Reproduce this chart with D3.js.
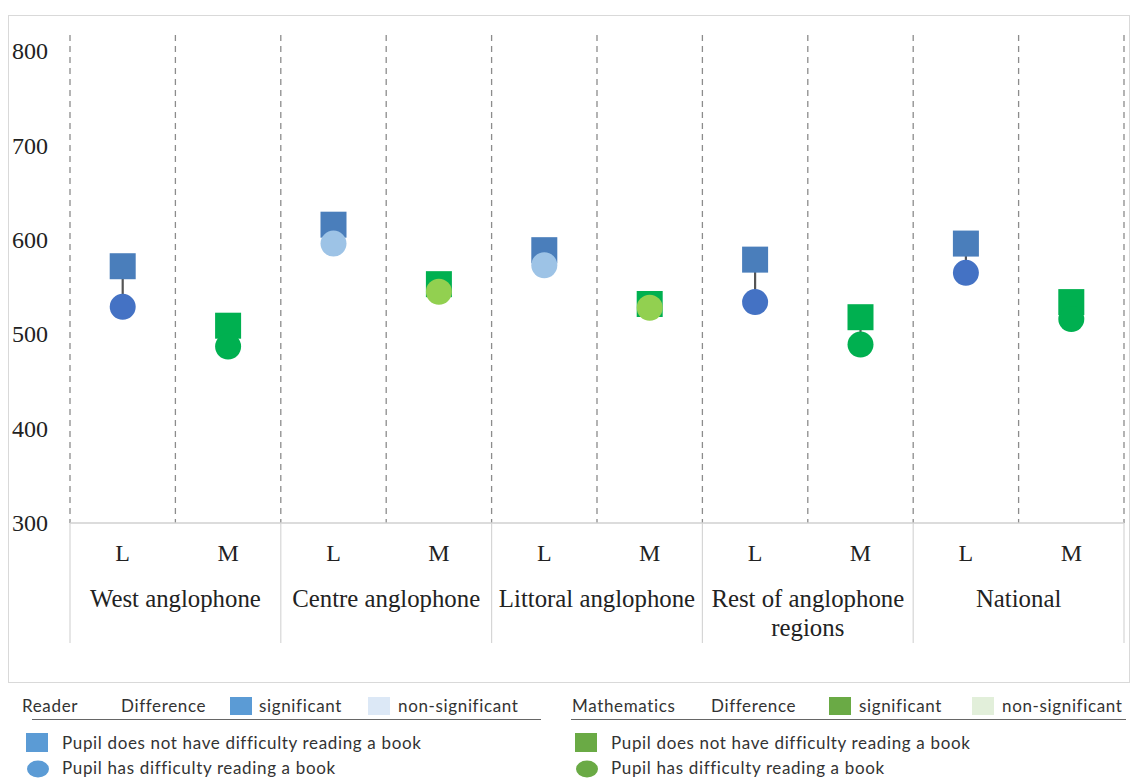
<!DOCTYPE html>
<html><head><meta charset="utf-8">
<script src="https://cdn.jsdelivr.net/npm/d3@7"></script>
<style>body{margin:0;background:#fff}svg{display:block}</style>
</head><body>
<svg id="c" width="1132" height="779"></svg>
<script>
const groups = ["West anglophone","Centre anglophone","Littoral anglophone","Rest of anglophone regions","National"];
const subjects = ["L","M"];
const noDifficulty = [572, 509, 616, 553, 589, 532, 579, 518, 596, 534];
const withDifficulty = [529, 487, 596, 545, 573, 528, 534, 489, 565, 516];
const significant = [true, true, false, false, false, false, true, true, true, true];
const yTicks = [300, 400, 500, 600, 700, 800];

const svg = d3.select("#c");
const serif = "'Liberation Serif','Times New Roman',serif";
const sans = "Lato,'Liberation Sans',sans-serif";

// frame
svg.append("rect").attr("x",8.5).attr("y",15.5).attr("width",1121).attr("height",667)
  .attr("fill","#fff").attr("stroke","#d9d9d9").attr("stroke-width",1);

const pLeft = 70, pRight = 1124, pTop = 35, pBottom = 523;
const y = d3.scaleLinear().domain([300, 800]).range([pBottom, 51]);
const keys = [];
groups.forEach(g => subjects.forEach(s => keys.push(g + "|" + s)));
const x = d3.scaleBand().domain(keys).range([pLeft, pRight]).padding(0);
const gx = d3.scaleBand().domain(groups).range([pLeft, pRight]).padding(0);
const cx = i => x(keys[i]) + x.bandwidth() / 2;

// dashed vertical gridlines at band edges
const edges = keys.map(k => x(k)).concat([pRight]);
svg.append("g").selectAll("line").data(edges).join("line")
  .attr("x1", d => d).attr("x2", d => d).attr("y1", pTop).attr("y2", pBottom)
  .attr("stroke", "#8c8c8c").attr("stroke-width", 1.3).attr("stroke-dasharray", "6,5");

// baseline
svg.append("line").attr("x1", pLeft).attr("x2", pRight).attr("y1", pBottom).attr("y2", pBottom)
  .attr("stroke", "#d0d0d0").attr("stroke-width", 1.3);

// group separators below axis
const gEdges = groups.map(g => gx(g)).concat([pRight]);
svg.append("g").selectAll("line").data(gEdges).join("line")
  .attr("x1", d => d).attr("x2", d => d).attr("y1", pBottom).attr("y2", 643)
  .attr("stroke", "#d6d6d6").attr("stroke-width", 1.2);

// y axis labels
const yAxis = d3.axisLeft(y).tickValues(yTicks).tickSize(0).tickPadding(0);
const ya = svg.append("g").attr("transform", "translate(12,0)").call(yAxis);
ya.select(".domain").remove();
ya.selectAll("text").attr("text-anchor", "start").attr("x", 0).attr("dy", "0.32em")
  .style("font-family", serif).style("font-size", "24px").attr("fill", "#222");

// sub labels
svg.append("g").selectAll("text").data(keys).join("text")
  .attr("x", (d, i) => cx(i)).attr("y", 561).attr("text-anchor", "middle")
  .style("font-family", serif).style("font-size", "24px").attr("fill", "#222")
  .text(d => d.split("|")[1]);

// group labels with wrap
svg.append("g").selectAll("text").data(groups).join("text")
  .attr("x", d => gx(d) + gx.bandwidth() / 2).attr("y", 607).attr("text-anchor", "middle")
  .style("font-family", serif).style("font-size", "24.8px").attr("fill", "#222")
  .each(function(d) {
    const t = d3.select(this);
    const words = d.split(" ");
    let line = [], lines = [];
    const tmp = t.append("tspan");
    words.forEach(w => {
      line.push(w);
      tmp.text(line.join(" "));
      if (tmp.node().getComputedTextLength() > gx.bandwidth() + 2 && line.length > 1) {
        line.pop(); lines.push(line.join(" ")); line = [w];
      }
    });
    lines.push(line.join(" "));
    tmp.remove();
    lines.forEach((l, j) => t.append("tspan").attr("x", gx(d) + gx.bandwidth() / 2)
      .attr("dy", j ? 29 : 0).text(l));
  });

// colours
const col = {
  L: { sq: "#4a7ebb", circ: "#4472c4", circNS: "#9dc3e6", line: "#555" },
  M: { sq: "#00b050", circ: "#00b050", circNS: "#92d050", line: "#555" }
};
const S = 26;
const marks = svg.append("g");
keys.forEach((k, i) => {
  const s = k.split("|")[1];
  const c = col[s];
  marks.append("line").attr("x1", cx(i)).attr("x2", cx(i))
    .attr("y1", y(noDifficulty[i])).attr("y2", y(withDifficulty[i]))
    .attr("stroke", c.line).attr("stroke-width", 2.2);
  marks.append("rect").attr("x", cx(i) - S / 2).attr("y", y(noDifficulty[i]) - S / 2)
    .attr("width", S).attr("height", S).attr("fill", c.sq);
  marks.append("circle").attr("cx", cx(i)).attr("cy", y(withDifficulty[i])).attr("r", S / 2)
    .attr("fill", significant[i] ? c.circ : c.circNS);
});

// legends
const legends = [
  { x0: 22, title: "Reader", diffX: 121, swX: 230, sigX: 259, nsSwX: 368, nsX: 398, lineX: [32, 541],
    sig: "#5b9bd5", ns: "#dce8f6", item: "#5b9bd5", itemX: 26 },
  { x0: 572, title: "Mathematics", diffX: 711, swX: 829, sigX: 859, nsSwX: 972, nsX: 1002, lineX: [571, 1126],
    sig: "#6aaa45", ns: "#e2efda", item: "#6aaa45", itemX: 575 }
];
const lg = svg.append("g").style("font-family", sans).style("font-size", "17px")
  .style("letter-spacing", "0.65px").attr("fill", "#333");
legends.forEach(L => {
  lg.append("text").attr("x", L.x0).attr("y", 712).text(L.title);
  lg.append("text").attr("x", L.diffX).attr("y", 712).text("Difference");
  lg.append("rect").attr("x", L.swX).attr("y", 697).attr("width", 22).attr("height", 18).attr("fill", L.sig);
  lg.append("text").attr("x", L.sigX).attr("y", 712).text("significant");
  lg.append("rect").attr("x", L.nsSwX).attr("y", 697).attr("width", 22).attr("height", 18).attr("fill", L.ns);
  lg.append("text").attr("x", L.nsX).attr("y", 712).text("non-significant");
  lg.append("line").attr("x1", L.lineX[0]).attr("x2", L.lineX[1]).attr("y1", 719.5).attr("y2", 719.5)
    .attr("stroke", "#666").attr("stroke-width", 1.2);
  lg.append("rect").attr("x", L.itemX).attr("y", 733).attr("width", 22).attr("height", 19).attr("fill", L.item);
  lg.append("text").attr("x", L.itemX + 36).attr("y", 749).text("Pupil does not have difficulty reading a book");
  lg.append("ellipse").attr("cx", L.itemX + 12).attr("cy", 769).attr("rx", 11).attr("ry", 8.5).attr("fill", L.item);
  lg.append("text").attr("x", L.itemX + 36).attr("y", 774).text("Pupil has difficulty reading a book");
});
</script>
</body></html>
